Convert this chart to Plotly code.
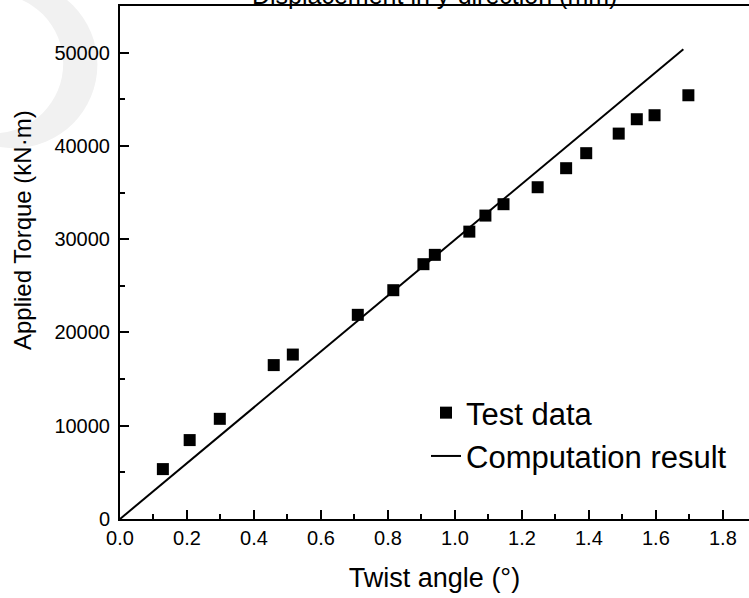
import plotly.graph_objects as go

# Test data
twist_test = [0.128, 0.208, 0.298, 0.459, 0.516, 0.710, 0.816, 0.906, 0.940,
              1.043, 1.091, 1.145, 1.247, 1.332, 1.392, 1.489, 1.543, 1.596, 1.697]
torque_test = [5350, 8460, 10740, 16500, 17630, 21890, 24530, 27320, 28320,
               30810, 32530, 33750, 35570, 37610, 39220, 41320, 42860, 43290, 45430]

# Computation result (straight line)
twist_calc = [0.0, 1.682]
torque_calc = [0, 50360]

W, H = 749, 598
ML, MR, MT, MB = 120, 0, 6, 79


def px(x):
    return (x - ML) / (W - ML - MR)


def py(y):
    return (H - MB - y) / (H - MT - MB)


FONT = "Liberation Sans, Arial, sans-serif"

fig = go.Figure()

fig.add_trace(go.Scatter(x=twist_test, y=torque_test, mode='markers', name='Test data',
                         marker=dict(symbol='square', size=12, color='black')))
fig.add_trace(go.Scatter(x=twist_calc, y=torque_calc, mode='lines', name='Computation result',
                         line=dict(color='black', width=2)))

# faint watermark arc in the top-left corner
fig.add_shape(type='circle', xref='paper', yref='paper', layer='below',
              x0=px(-70), x1=px(97.4), y0=py(148.2), y1=py(-19.2),
              fillcolor='#f1f1f1', line=dict(width=0))
fig.add_shape(type='circle', xref='paper', yref='paper', layer='below',
              x0=px(-76.2), x1=px(63.2), y0=py(133.3), y1=py(-6.1),
              fillcolor='white', line=dict(width=0))

# y title and the cut-off top title
fig.add_annotation(text='Applied Torque (kN·m)', xref='paper', yref='paper',
                   x=px(22), y=py(230), xanchor='center', yanchor='middle',
                   textangle=-90, showarrow=False,
                   font=dict(size=24, color='black', family=FONT))
fig.add_annotation(text='Displacement in y-direction (mm)', xref='paper', yref='paper',
                   x=px(434), y=py(10.5), xanchor='center', yanchor='bottom', showarrow=False,
                   font=dict(size=25, color='black', family=FONT))

fig.update_layout(
    width=W, height=H,
    margin=dict(l=ML, r=MR, t=MT, b=MB),
    plot_bgcolor='white',
    paper_bgcolor='white',
    font=dict(family=FONT, color='black', size=20),
    showlegend=True,
    legend=dict(x=px(426), y=py(386), xanchor='left', yanchor='top',
                bgcolor='rgba(0,0,0,0)', font=dict(size=31), tracegroupgap=0),
)

fig.update_xaxes(range=[0, 1.878], dtick=0.2, tickformat='.1f', showgrid=False, zeroline=False,
                 automargin=False,
                 showline=True, linewidth=2, linecolor='black', mirror=True,
                 ticks='inside', ticklen=9, tickwidth=2, tickcolor='black',
                 minor=dict(dtick=0.1, ticks='inside', ticklen=5, tickwidth=2, tickcolor='black'),
                 tickfont=dict(size=20),
                 title=dict(text='Twist angle (°)', font=dict(size=27), standoff=20))
fig.update_yaxes(range=[0, 55000], dtick=10000, tickformat='d', showgrid=False, zeroline=False,
                 automargin=False, ticklabelstandoff=4,
                 showline=True, linewidth=2, linecolor='black', mirror=False,
                 ticks='inside', ticklen=9, tickwidth=2, tickcolor='black',
                 minor=dict(dtick=5000, ticks='inside', ticklen=5, tickwidth=2, tickcolor='black'),
                 tickfont=dict(size=20))

# the page body has a default 8px margin; drop it so the figure sits at the window corner
fig.write_html("out.html", config={'displayModeBar': False},
               post_script="document.body.style.margin='0';")
